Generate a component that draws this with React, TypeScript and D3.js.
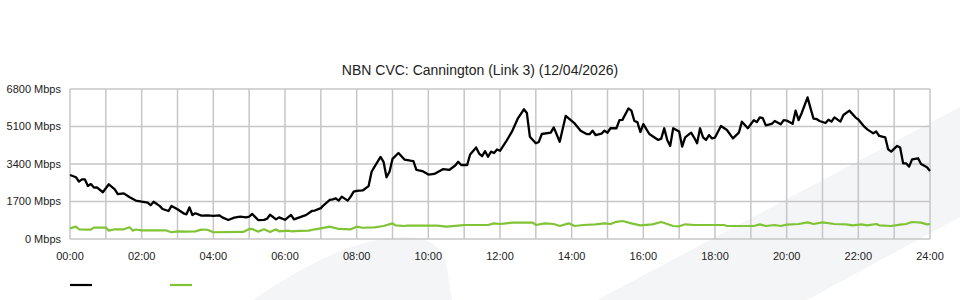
import React from "react";
import * as d3 from "d3";

const title = "NBN CVC: Cannington (Link 3) (12/04/2026)";
const yTicks = [0, 1700, 3400, 5100, 6800];
const xTickLabels = ["00:00", "02:00", "04:00", "06:00", "08:00", "10:00", "12:00", "14:00", "16:00", "18:00", "20:00", "22:00", "24:00"];
const hourGrid = d3.range(0, 25);

const inbound: [string, number][] = [
  ["00:00", 2900], ["00:10", 2800], ["00:15", 2600], ["00:20", 2700], ["00:25", 2700], ["00:30", 2400],
  ["00:35", 2490], ["00:40", 2330], ["00:45", 2340], ["00:55", 2120], ["01:05", 2480], ["01:15", 2250],
  ["01:20", 2030], ["01:30", 2070], ["01:40", 1890], ["01:50", 1740], ["02:00", 1690], ["02:10", 1650],
  ["02:15", 1530], ["02:20", 1690], ["02:30", 1500], ["02:35", 1360], ["02:45", 1270], ["02:50", 1500],
  ["03:00", 1345], ["03:10", 1165], ["03:15", 1120], ["03:20", 1435], ["03:25", 1090], ["03:30", 1165],
  ["03:40", 1060], ["03:50", 1075], ["04:00", 1045], ["04:10", 1075], ["04:15", 980], ["04:25", 862],
  ["04:35", 970], ["04:45", 1010], ["04:55", 980], ["05:00", 1010], ["05:05", 1140], ["05:15", 860],
  ["05:25", 870], ["05:30", 920], ["05:35", 1100], ["05:45", 890], ["05:50", 980], ["06:00", 870],
  ["06:10", 1090], ["06:15", 890], ["06:30", 1040], ["06:35", 1080], ["06:45", 1270], ["06:50", 1290],
  ["07:00", 1400], ["07:05", 1540], ["07:15", 1770], ["07:20", 1800], ["07:25", 1840], ["07:30", 1740],
  ["07:35", 1920], ["07:45", 1740], ["07:50", 1920], ["07:55", 2150], ["08:00", 2180], ["08:10", 2200],
  ["08:20", 2400], ["08:25", 3050], ["08:30", 3280], ["08:40", 3720], ["08:45", 3500], ["08:50", 2800],
  ["08:55", 3050], ["09:00", 3630], ["09:10", 3900], ["09:20", 3600], ["09:30", 3550], ["09:35", 3530],
  ["09:40", 3130], ["09:50", 3080], ["10:00", 2920], ["10:10", 2950], ["10:25", 3170], ["10:35", 3130],
  ["10:45", 3330], ["10:50", 3500], ["10:55", 3354], ["11:05", 3354], ["11:10", 3830], ["11:20", 4150],
  ["11:25", 3875], ["11:30", 3754], ["11:35", 3980], ["11:40", 3730], ["11:45", 3960], ["11:50", 3900],
  ["11:55", 4060], ["12:00", 4000], ["12:10", 4410], ["12:20", 4865], ["12:30", 5470], ["12:40", 5880],
  ["12:45", 5710], ["12:50", 4640], ["13:00", 4340], ["13:05", 4400], ["13:10", 4760], ["13:25", 4820],
  ["13:30", 5060], ["13:40", 4410], ["13:50", 5580], ["14:05", 5240], ["14:15", 4910], ["14:25", 4760],
  ["14:30", 4750], ["14:35", 4910], ["14:40", 4714], ["14:50", 4780], ["14:55", 4910], ["15:00", 4820],
  ["15:05", 5020], ["15:15", 5020], ["15:20", 5390], ["15:25", 5400], ["15:35", 5920], ["15:40", 5820],
  ["15:45", 5350], ["15:50", 5300], ["15:55", 4850], ["16:00", 5210], ["16:10", 4760], ["16:15", 4670],
  ["16:25", 4490], ["16:30", 4550], ["16:35", 5020], ["16:40", 4490], ["16:45", 4220], ["16:50", 5020],
  ["17:00", 4870], ["17:05", 4190], ["17:10", 4610], ["17:20", 4820], ["17:25", 4600], ["17:30", 4340],
  ["17:35", 5020], ["17:40", 4610], ["17:45", 4490], ["17:50", 4710], ["17:55", 4560], ["18:00", 4600],
  ["18:10", 5120], ["18:20", 4940], ["18:30", 4560], ["18:40", 4820], ["18:45", 5320], ["18:55", 5020],
  ["19:05", 5390], ["19:10", 5300], ["19:15", 5515], ["19:20", 5480], ["19:25", 5150], ["19:35", 5220],
  ["19:40", 5350], ["19:50", 5200], ["19:55", 5390], ["20:00", 5370], ["20:10", 5220], ["20:15", 5820],
  ["20:20", 5390], ["20:25", 5700], ["20:35", 6420], ["20:40", 5920], ["20:45", 5455], ["20:50", 5440],
  ["20:55", 5350], ["21:05", 5260], ["21:10", 5410], ["21:15", 5320], ["21:20", 5515], ["21:30", 5320],
  ["21:35", 5620], ["21:45", 5820], ["21:55", 5515], ["22:00", 5420], ["22:10", 5090], ["22:15", 4970],
  ["22:25", 4790], ["22:30", 4870], ["22:35", 4670], ["22:45", 4610], ["22:50", 4060], ["22:55", 3960],
  ["23:05", 4220], ["23:10", 4150], ["23:15", 3430], ["23:20", 3430], ["23:25", 3280], ["23:30", 3610],
  ["23:40", 3660], ["23:45", 3400], ["23:55", 3250], ["24:00", 3080],
];

const outbound: [string, number][] = [
  ["00:00", 480], ["00:10", 560], ["00:15", 440], ["00:35", 425], ["00:40", 515], ["01:00", 515],
  ["01:05", 380], ["01:15", 440], ["01:30", 440], ["01:40", 530], ["01:45", 380], ["01:50", 430],
  ["02:00", 395], ["02:40", 395], ["02:50", 305], ["03:00", 345], ["03:15", 335], ["03:30", 345],
  ["03:40", 425], ["03:50", 420], ["04:00", 305], ["04:50", 320], ["05:00", 455], ["05:05", 450],
  ["05:15", 335], ["05:25", 440], ["05:35", 320], ["05:45", 440], ["05:50", 350], ["06:05", 380],
  ["06:10", 350], ["06:25", 365], ["06:40", 380], ["06:50", 440], ["07:00", 485], ["07:15", 560],
  ["07:30", 455], ["07:50", 440], ["08:00", 560], ["08:10", 510], ["08:30", 530], ["08:45", 590],
  ["09:00", 710], ["09:05", 620], ["09:20", 590], ["09:25", 605], ["10:15", 605], ["10:30", 560],
  ["10:55", 620], ["11:00", 635], ["11:40", 635], ["11:50", 710], ["12:00", 680], ["12:10", 710],
  ["12:20", 740], ["12:55", 740], ["13:00", 635], ["13:15", 710], ["13:30", 680], ["13:40", 590],
  ["13:55", 710], ["14:05", 590], ["14:20", 635], ["14:40", 665], ["14:55", 710], ["15:05", 680],
  ["15:15", 780], ["15:25", 815], ["15:40", 710], ["15:55", 620], ["16:15", 665], ["16:30", 770],
  ["16:40", 680], ["16:50", 590], ["17:00", 575], ["17:10", 665], ["17:25", 635], ["18:15", 635],
  ["18:20", 590], ["18:35", 590], ["19:05", 590], ["19:15", 665], ["19:25", 590], ["19:40", 635],
  ["19:50", 590], ["20:00", 650], ["20:20", 680], ["20:35", 755], ["20:45", 680], ["21:00", 755],
  ["21:20", 680], ["21:40", 665], ["21:50", 620], ["22:05", 665], ["22:15", 620], ["22:30", 680],
  ["22:35", 620], ["22:55", 590], ["23:10", 650], ["23:20", 680], ["23:30", 770], ["23:45", 740],
  ["23:55", 665], ["24:00", 680],
];

const toHours = (t: string) => {
  const [h, m] = t.split(":").map(Number);
  return h + m / 60;
};

const FONT = "'Liberation Sans', Arial, Helvetica, sans-serif";

export default function App() {
  const left = 70, right = 930, top = 89, bottom = 239;
  const x = d3.scaleLinear().domain([0, 24]).range([left, right]);
  const y = d3.scaleLinear().domain([0, 6800]).range([bottom, top]);
  const line = d3
    .line<[string, number]>()
    .x((d) => x(toHours(d[0])))
    .y((d) => y(d[1]));
  const gridColor = "#c6c6c6";
  const green = "#80c436";

  return (
    <svg
      width={960}
      height={300}
      style={{ position: "absolute", left: 0, top: 0, background: "#fff" }}
      fontFamily={FONT}
    >
      <rect x={0} y={0} width={960} height={300} fill="#ffffff" />
      {/* watermark shapes */}
      <path d="M253,300 C300,268 350,240 400,237 C430,236 442,248 446,262 L452,300 Z" fill="#f4f5f7" />
      <path d="M597,300 L960,107 L960,217 L807,300 Z" fill="#f4f5f7" />

      <text x={480} y={75} textAnchor="middle" fontSize={14} fill="#222">
        {title}
      </text>

      {/* grid */}
      {hourGrid.map((h) => (
        <line key={"v" + h} x1={x(h)} x2={x(h)} y1={top} y2={bottom} stroke={gridColor} strokeWidth={1.5} />
      ))}
      {yTicks.map((v) => (
        <line key={"h" + v} x1={left} x2={right} y1={y(v)} y2={y(v)} stroke={gridColor} strokeWidth={1.5} />
      ))}

      {/* y labels */}
      {yTicks.map((v) => (
        <text key={"yl" + v} x={61} y={y(v)} dy="0.34em" textAnchor="end" fontSize={11} fill="#222">
          {v + " Mbps"}
        </text>
      ))}
      {/* x labels */}
      {xTickLabels.map((l) => (
        <text key={"xl" + l} x={x(toHours(l))} y={260} textAnchor="middle" fontSize={11} fill="#222">
          {l}
        </text>
      ))}

      {/* series */}
      <path d={line(outbound) || ""} fill="none" stroke={green} strokeWidth={2.2} strokeLinejoin="round" />
      <path d={line(inbound) || ""} fill="none" stroke="#000" strokeWidth={2.3} strokeLinejoin="round" />

      {/* legend */}
      <line x1={70} x2={92} y1={285} y2={285} stroke="#000" strokeWidth={2.2} />
      <line x1={170} x2={192} y1={285} y2={285} stroke={green} strokeWidth={2.2} />
    </svg>
  );
}
